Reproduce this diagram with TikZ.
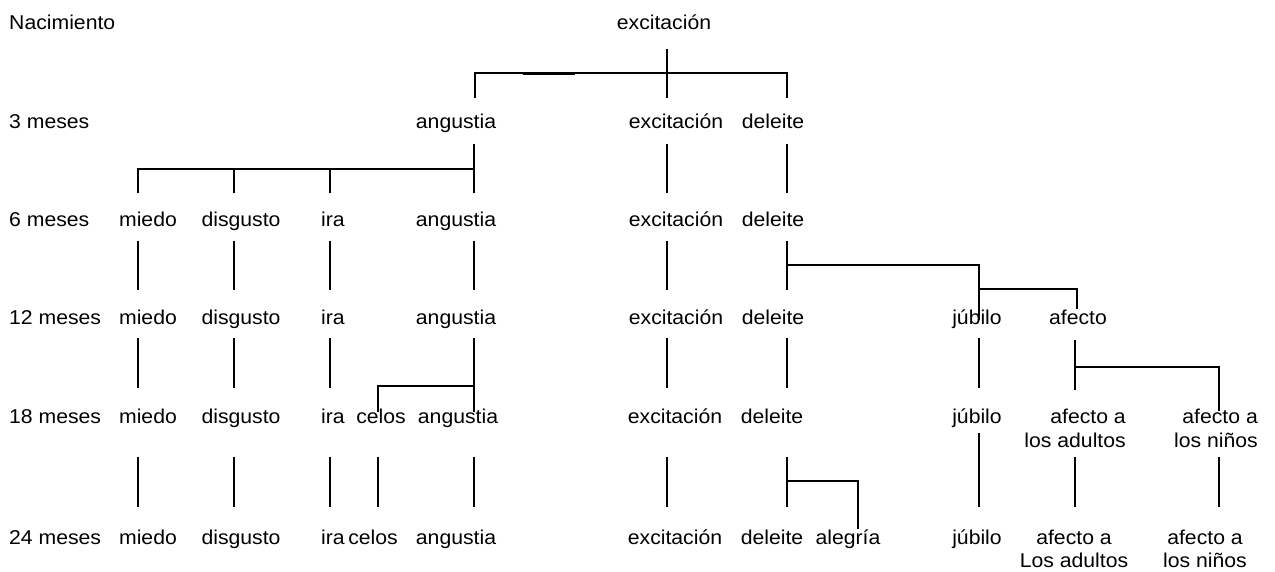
\documentclass[tikz,border=0pt]{standalone}
\usepackage{fontspec}
\setmainfont{Liberation Sans}[FakeStretch=1.06]
\begin{document}
\begin{tikzpicture}[x=1pt,y=-1pt,
  lbl/.style={inner sep=0pt,anchor=base,font=\fontsize{20}{23}\selectfont},
  rowlbl/.style={lbl,anchor=base west},
  ln/.style={line width=2.7pt,black}]
\useasboundingbox[fill=white] (0,0) rectangle (1275,571);
% row labels
\node[rowlbl] (r0) at (9,29) {Nacimiento};
\node[rowlbl] (r3) at (9,128) {3 meses};
\node[rowlbl] (r6) at (9,226) {6 meses};
\node[rowlbl] (r12) at (9,324) {12 meses};
\node[rowlbl] (r18) at (9,423) {18 meses};
\node[rowlbl] (r24) at (9,544) {24 meses};
% birth
\node[lbl] (ex0) at (664,29) {excitación};
% 3 months
\node[lbl] (an3) at (456,128) {angustia};
\node[lbl] (ex3) at (676,128) {excitación};
\node[lbl] (de3) at (773,128) {deleite};
% 6 months
\node[lbl] (mi6) at (148,226) {miedo};
\node[lbl] (di6) at (241,226) {disgusto};
\node[lbl] (ir6) at (333,226) {ira};
\node[lbl] (an6) at (456,226) {angustia};
\node[lbl] (ex6) at (676,226) {excitación};
\node[lbl] (de6) at (773,226) {deleite};
% 12 months
\node[lbl] (mi12) at (148,324) {miedo};
\node[lbl] (di12) at (241,324) {disgusto};
\node[lbl] (ir12) at (333,324) {ira};
\node[lbl] (an12) at (456,324) {angustia};
\node[lbl] (ex12) at (676,324) {excitación};
\node[lbl] (de12) at (773,324) {deleite};
\node[lbl] (ju12) at (977,324) {júbilo};
\node[lbl] (af12) at (1078,324) {afecto};
% 18 months
\node[lbl] (mi18) at (148,423) {miedo};
\node[lbl] (di18) at (241,423) {disgusto};
\node[lbl] (ir18) at (333,423) {ira};
\node[lbl] (ce18) at (381,423) {celos};
\node[lbl] (an18) at (458,423) {angustia};
\node[lbl] (ex18) at (675,423) {excitación};
\node[lbl] (de18) at (772,423) {deleite};
\node[lbl] (ju18) at (977,423) {júbilo};
\node[lbl,anchor=north east,align=right,font=\fontsize{20}{24}\selectfont] (aa18) at (1126,408.5) {afecto a\\los adultos};
\node[lbl,anchor=north east,align=right,font=\fontsize{20}{24}\selectfont] (an18b) at (1258,408.5) {afecto a\\los niños};
% 24 months
\node[lbl] (mi24) at (148,544) {miedo};
\node[lbl] (di24) at (241,544) {disgusto};
\node[lbl] (ir24) at (333,544) {ira};
\node[lbl] (ce24) at (373,544) {celos};
\node[lbl] (an24) at (456,544) {angustia};
\node[lbl] (ex24) at (675,544) {excitación};
\node[lbl] (de24) at (772,544) {deleite};
\node[lbl] (al24) at (848,544) {alegría};
\node[lbl] (ju24) at (977,544) {júbilo};
\node[lbl,anchor=north,align=center] (aa24) at (1074,529.5) {afecto a\\Los adultos};
\node[lbl,anchor=north,align=center] (an24b) at (1205,529.5) {afecto a\\los niños};
% connectors: birth -> 3 months
\draw[ln] (667,49) -- (667,98);
\draw[ln] (475,98) -- (475,73) -- (787,73) -- (787,98);
\draw[line width=3.1pt] (523,73.6) -- (575,73.6);
% 3 -> 6
\draw[ln] (474,144) -- (474,193);
\draw[ln] (138,193) -- (138,169) -- (474,169);
\draw[ln] (234,169) -- (234,193);
\draw[ln] (330,169) -- (330,193);
\draw[ln] (667,144) -- (667,193);
\draw[ln] (787,144) -- (787,193);
% 6 -> 12
\foreach \x in {138,234,330,474,667,787}
  \draw[ln] (\x,241) -- (\x,290);
\draw[ln] (787,265) -- (979,265) -- (979,320);
\draw[ln] (979,289) -- (1077,289) -- (1077,309);
% 12 -> 18
\foreach \x in {138,234,330,667,787}
  \draw[ln] (\x,338) -- (\x,388);
\draw[ln] (474,338) -- (474,412);
\draw[ln] (378,412) -- (378,386) -- (474,386);
\draw[ln] (979,338) -- (979,388);
\draw[ln] (1075,340) -- (1075,390);
\draw[ln] (1075,367) -- (1219,367) -- (1219,411);
% 18 -> 24
\foreach \x in {138,234,330,378,474,667,787,1075,1219}
  \draw[ln] (\x,457) -- (\x,507);
\draw[ln] (979,433) -- (979,507);
\draw[ln] (787,481) -- (858,481) -- (858,529);
\end{tikzpicture}
\end{document}
